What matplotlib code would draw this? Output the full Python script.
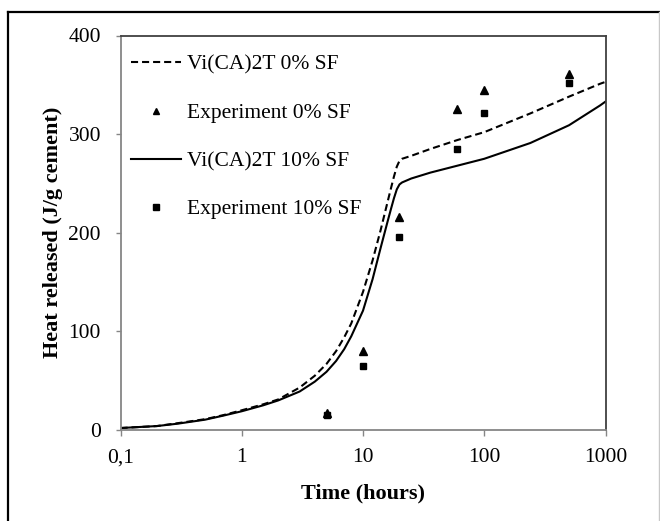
import matplotlib
matplotlib.use("Agg")
import matplotlib.pyplot as plt
from matplotlib.lines import Line2D

# ---- data ----
model_time = [0.1, 0.2, 0.3, 0.5, 0.7, 1, 1.5, 2, 3, 4, 5, 6, 7, 8, 10, 12, 14, 16,
              17, 18, 19, 20, 21, 25, 36, 60, 100, 240, 500, 900, 1000]
model_0sf = [2, 4, 7, 11, 15, 20, 26, 31, 43, 55, 67, 80, 94, 108, 140, 172, 203, 232,
             245, 257, 267, 273, 275, 278, 285, 294, 302, 321, 338, 351, 353]
model_10sf = [2, 4, 6.5, 10.5, 14.5, 19, 25, 30, 39, 49, 59, 70, 82, 95, 121, 153, 185, 212,
              224, 235, 244, 249, 251, 255, 261, 268, 275, 291, 309, 329, 333]

exp_time = [5, 10, 20, 60, 100, 500]
exp_0sf = [17, 80, 216, 325, 345, 361]
exp_10sf = [15, 65, 196, 285, 321, 352]

x_ticks = [0.1, 1, 10, 100, 1000]
x_ticklabels = ["0,1", "1", "10", "100", "1000"]
y_ticks = [0, 100, 200, 300, 400]

labels = ["Vi(CA)2T 0% SF", "Experiment 0% SF", "Vi(CA)2T 10% SF", "Experiment 10% SF"]

# ---- figure ----
plt.rcParams["font.family"] = ["Liberation Serif", "DejaVu Serif"]
W, H = 660, 521
fig = plt.figure(figsize=(W / 100, H / 100), dpi=100)
ax = fig.add_axes([120.5 / W, 1 - 430 / H, 485 / W, (430 - 35.5) / H])

dash = (0, (3.4, 1.9))
l1, = ax.plot(model_time, model_0sf, color="black", lw=1.5, linestyle=dash)
p1, = ax.plot(exp_time, exp_0sf, linestyle="none", marker="^", color="black", markersize=5.5)
l2, = ax.plot(model_time, model_10sf, color="black", lw=1.5)
p2, = ax.plot(exp_time, exp_10sf, linestyle="none", marker="s", color="black", markersize=5)

ax.set_xscale("log")
ax.set_xlim(0.1, 1000)
ax.set_ylim(0, 400)
ax.set_xticks(x_ticks)
ax.set_xticklabels(x_ticklabels)
ax.xaxis.set_minor_locator(matplotlib.ticker.NullLocator())
ax.set_yticks(y_ticks)

gray = "#868686"
dark = "#404040"
for s in ["left", "bottom"]:
    ax.spines[s].set_color(gray)
    ax.spines[s].set_linewidth(1.3)
for s in ["top", "right"]:
    ax.spines[s].set_color(dark)
    ax.spines[s].set_linewidth(1.3)
ax.tick_params(axis="y", direction="out", length=3.6, width=1, color=gray,
               labelsize=15.5, pad=10.5)
ax.tick_params(axis="x", direction="out", length=4.3, width=1, color=gray,
               labelsize=15.5, pad=9)

ax.set_xlabel("Time (hours)", fontsize=16, fontweight="bold")
ax.set_ylabel("Heat released (J/g cement)", fontsize=16, fontweight="bold")
ax.xaxis.set_label_coords(0.5, -0.135)
ax.yaxis.set_label_coords(-0.118, 0.5)

ax.legend([l1, p1, l2, p2], labels, loc="upper left", frameon=False,
          bbox_to_anchor=(0.0134, 0.9617),
          fontsize=15.5, handlelength=2.3, handletextpad=0.3, labelspacing=1.3,
          borderaxespad=0.0, borderpad=0.2, markerscale=0.9)

# outer chart border
fig.add_artist(Line2D([8 / W, 1], [1 - 12 / H, 1 - 12 / H], color="black", lw=1.6,
                      transform=fig.transFigure))
fig.add_artist(Line2D([8 / W, 8 / W], [0, 1 - 12 / H], color="black", lw=1.6,
                      transform=fig.transFigure))
fig.add_artist(Line2D([658.5 / W, 658.5 / W], [0, 1 - 12 / H], color="#c8c8c8", lw=1,
                      transform=fig.transFigure))

fig.savefig("out.png", dpi=100)
